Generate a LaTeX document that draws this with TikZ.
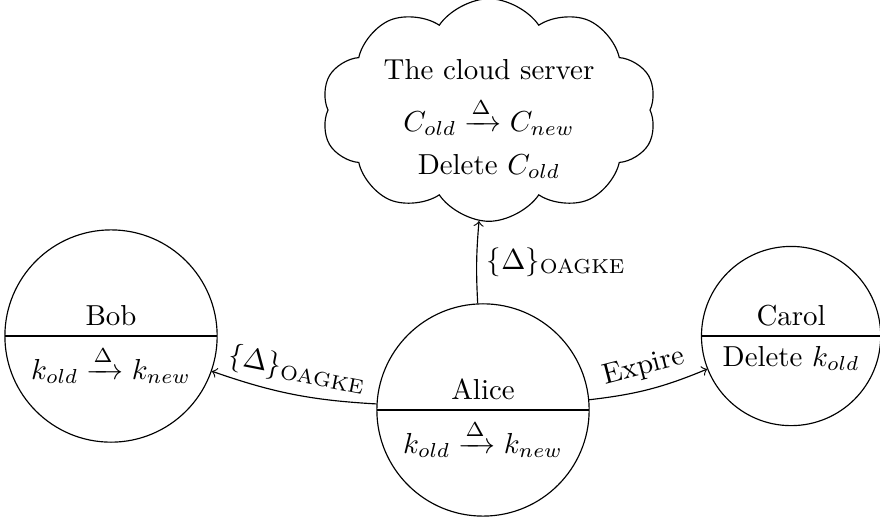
\documentclass[tikz,border=0pt]{standalone}
\usepackage{amsmath}
\usetikzlibrary{shapes.multipart,shapes.symbols}

\begin{document}
\begin{tikzpicture}[>=to,
    party/.style={circle split,draw},
    server/.style={cloud,draw,cloud puffs=10,cloud puff arc=112,cloud ignores aspect,
      inner sep=0pt,minimum width=4.08cm,minimum height=2.42cm}]
    \useasboundingbox (0,0) rectangle (10.70,-6.335);
    \node[party] (alice) at (5.873,-4.985)
      {Alice \nodepart{lower} $k_{old}\xrightarrow{\Delta}k_{new}$};
    \node[party] (bob) at (1.35,-4.086)
      {Bob \nodepart{lower} $k_{old}\xrightarrow{\Delta}k_{new}$};
    \node[party] (carol) at (9.619,-4.086)
      {Carol \nodepart{lower} Delete $k_{old}$};
    \node[server] (cloud) at (5.946,-1.338)
      {\raisebox{-3.5pt}[\height][\depth]{\begin{tabular}{@{}c@{}}
        The cloud server\\[2.7pt] $C_{old}\xrightarrow{\Delta}C_{new}$\\[2.9pt] Delete $C_{old}$
      \end{tabular}}};
    % update messages
    \draw[->] (alice) to[bend left=8] node[sloped,above] {$\{\Delta\}_{\mathrm{OAGKE}}$} (bob);
    \draw[->] (alice) to[bend left=4] node[right] {$\{\Delta\}_{\mathrm{OAGKE}}$} (cloud);
    \draw[->] (alice) to[bend right=8] node[sloped,above] {Expire} (carol);
  \end{tikzpicture}
\end{document}
